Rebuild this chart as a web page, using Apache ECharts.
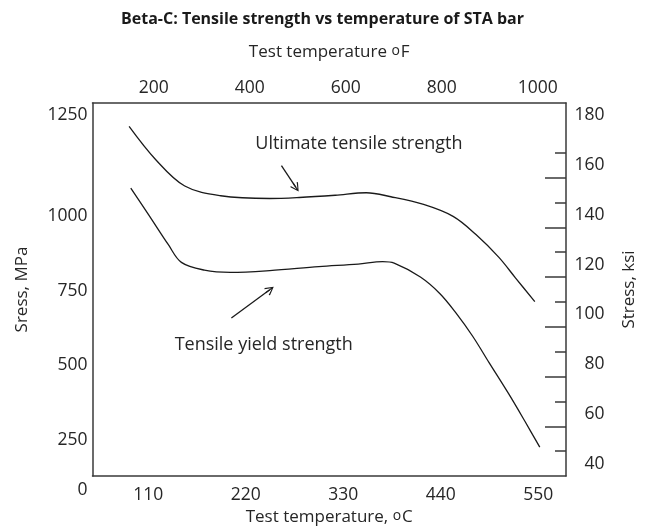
<!DOCTYPE html>
<html>
<head>
<meta charset="utf-8">
<title>Beta-C tensile strength</title>
<script src="https://cdn.jsdelivr.net/npm/echarts@6.0.0/dist/echarts.min.js"></script>
<style>
  html, body { margin: 0; padding: 0; background: #fff; }
  #chart { width: 646px; height: 531px; }
</style>
</head>
<body>
<div id="chart"></div>
<script>
// curves: x in degC (bottom axis), y in ksi (right axis)
const ultTempC = [88.3, 117.9, 151.1, 191.6, 247.0, 280.3, 320.9, 356.0, 383.7, 420.6, 453.9, 479.7, 505.6, 524.0, 546.1]
const ultKsi = [175.6, 162.4, 151.6, 147.7, 146.6, 147.0, 147.9, 148.9, 147.3, 144.2, 139.4, 132.1, 122.9, 114.8, 105.1]

const yldTempC = [90.2, 110.4, 132.6, 147.3, 173.3, 202.7, 247.0, 302.4, 346.7, 374.4, 387.4, 417.0, 439.1, 457.5, 476.0, 494.5, 516.7, 535.1, 551.7]
const yldKsi = [150.8, 140.0, 128.0, 120.9, 117.8, 116.9, 117.6, 119.2, 120.2, 121.2, 120.6, 115.0, 108.3, 100.4, 91.2, 80.6, 68.0, 56.9, 46.6]

// tick labels
const bottomTicksC = [110, 220, 330, 440, 550]
const topTicksF = [200, 400, 600, 800, 1000]
const rightTicksKsi = [180, 160, 140, 120, 100, 80, 60, 40]
const rightLongTicks = [155, 135, 115, 95, 75, 55]
const rightShortTicks = [165, 145, 125, 105, 85, 65, 45]
// the MPa labels on the left sit where the drawing put them (in ksi units)
const leftLabelPos = [180, 139.5, 109.5, 79.5, 49.5, 35]
const leftLabelText = ['1250', '1000', '750', '500', '250', '0']

// annotations: [degC, ksi]
const ultArrow = [[260.2, 159.8], [276.5, 151.1]]
const yldArrow = [[203.7, 98.5], [247.0, 109.9]]
const ultNote = [347.6, 168.7]
const yldNote = [240.2, 87.7]

const FONT = 'Open Sans'
const TEXT = '#262626'
const FRAME = '#3a3a3a'
const LABEL_SIZE = 17.5
const CHEVRON = 'path://M5,0 L10,8 L9,9 L5.6,3 L5.6,10 L4.4,10 L4.4,3 L1,9 L0,8 Z'

function zip(xs, ys) {
  return xs.map((x, i) => [x, ys[i]])
}

function arrowLine(pts) {
  return [{ coord: pts[0] }, { coord: pts[1] }]
}

const plain = (v) => String(v)

const supRich = {
  sup: { fontSize: 14, fontFamily: FONT, color: TEXT, verticalAlign: 'top', padding: [0, 1, 0, 0] }
}

const option = {
  animation: false,
  backgroundColor: '#fff',
  title: {
    text: 'Beta-C: Tensile strength vs temperature of STA bar',
    left: 116,
    top: 6,
    textStyle: { fontFamily: FONT, fontSize: 16, fontWeight: 'bold', color: '#1a1a1a' }
  },
  grid: { left: 92.5, right: 71, top: 103, bottom: 49 },
  xAxis: [
    {
      type: 'value',
      position: 'bottom',
      min: 47,
      max: 581.3,
      name: 'Test temperature, {sup|o}C',
      nameLocation: 'middle',
      nameGap: 33,
      nameTextStyle: { fontFamily: FONT, fontSize: 17, color: TEXT, rich: supRich },
      axisLine: { onZero: false, lineStyle: { color: FRAME, width: 1.5 } },
      axisTick: { show: false },
      splitLine: { show: false },
      axisLabel: {
        customValues: bottomTicksC,
        formatter: plain,
        margin: 10,
        fontFamily: FONT,
        fontSize: LABEL_SIZE,
        color: TEXT
      }
    },
    {
      type: 'value',
      position: 'top',
      min: 72.6,
      max: 1058.9,
      name: 'Test temperature {sup|o}F',
      nameLocation: 'middle',
      nameGap: 42,
      nameTextStyle: { fontFamily: FONT, fontSize: 17, color: TEXT, rich: supRich },
      axisLine: { onZero: false, lineStyle: { color: FRAME, width: 1.5 } },
      axisTick: { show: false },
      splitLine: { show: false },
      axisLabel: {
        customValues: topTicksF,
        formatter: plain,
        margin: 6,
        fontFamily: FONT,
        fontSize: LABEL_SIZE,
        color: TEXT
      }
    }
  ],
  yAxis: [
    {
      type: 'value',
      position: 'left',
      min: 35,
      max: 185,
      name: 'Sress, MPa',
      nameLocation: 'middle',
      nameGap: 62,
      nameTextStyle: { fontFamily: FONT, fontSize: 17, color: TEXT },
      axisLine: { show: true, onZero: false, lineStyle: { color: FRAME, width: 1.5 } },
      axisTick: { show: false },
      splitLine: { show: false },
      axisLabel: {
        customValues: leftLabelPos,
        margin: 5,
        fontFamily: FONT,
        fontSize: LABEL_SIZE,
        color: TEXT,
        rich: { low: { fontFamily: FONT, fontSize: LABEL_SIZE, color: TEXT, padding: [28, 0, 0, 0] } },
        formatter: (value) => {
          const i = leftLabelPos.findIndex((p) => Math.abs(p - value) < 0.01)
          if (i < 0) return ''
          // the 0 label hangs below the frame in the original
          return i === leftLabelPos.length - 1 ? `{low|${leftLabelText[i]}}` : leftLabelText[i]
        }
      }
    },
    {
      type: 'value',
      position: 'right',
      min: 35,
      max: 185,
      name: 'Stress, ksi',
      nameLocation: 'middle',
      nameGap: 55,
      nameTextStyle: { fontFamily: FONT, fontSize: 17, color: TEXT },
      axisLine: { show: true, onZero: false, lineStyle: { color: FRAME, width: 1.5 } },
      axisTick: {
        show: true,
        inside: true,
        length: 21,
        customValues: rightLongTicks,
        lineStyle: { color: FRAME, width: 1.5 }
      },
      splitLine: { show: false },
      axisLabel: {
        customValues: rightTicksKsi,
        formatter: plain,
        margin: 38.5,
        align: 'right',
        fontFamily: FONT,
        fontSize: LABEL_SIZE,
        color: TEXT
      }
    },
    {
      type: 'value',
      position: 'right',
      min: 35,
      max: 185,
      axisLine: { show: false },
      axisTick: {
        show: true,
        inside: true,
        length: 11,
        customValues: rightShortTicks,
        lineStyle: { color: FRAME, width: 1.5 }
      },
      splitLine: { show: false },
      axisLabel: { show: false }
    }
  ],
  series: [
    {
      name: 'Ultimate tensile strength',
      type: 'line',
      xAxisIndex: 0,
      yAxisIndex: 1,
      data: zip(ultTempC, ultKsi),
      smooth: 0.35,
      symbol: 'none',
      silent: true,
      lineStyle: { color: '#1a1a1a', width: 1.3 },
      markLine: {
        silent: true,
        symbol: ['none', CHEVRON],
        symbolSize: [9, 10],
        label: { show: false },
        lineStyle: { color: '#1a1a1a', width: 1.3, type: 'solid' },
        data: [arrowLine(ultArrow), arrowLine(yldArrow)]
      },
      markPoint: {
        silent: true,
        symbol: 'circle',
        symbolSize: 0,
        label: {
          show: true,
          position: 'inside',
          formatter: '{b}',
          fontFamily: FONT,
          fontSize: 18,
          color: TEXT
        },
        data: [
          { name: 'Ultimate tensile strength', coord: ultNote },
          { name: 'Tensile yield strength', coord: yldNote }
        ]
      }
    },
    {
      name: 'Tensile yield strength',
      type: 'line',
      xAxisIndex: 0,
      yAxisIndex: 1,
      data: zip(yldTempC, yldKsi),
      smooth: 0.35,
      symbol: 'none',
      silent: true,
      lineStyle: { color: '#1a1a1a', width: 1.3 }
    }
  ]
}

function initChart(id, opt) {
  const el = document.getElementById(id)
  if (!el) return
  const myChart = echarts.init(el, null, { renderer: 'canvas' })
  myChart.setOption(opt)
  window.addEventListener('resize', () => {
    myChart.resize()
  })
}

initChart('chart', option)
</script>
</body>
</html>
